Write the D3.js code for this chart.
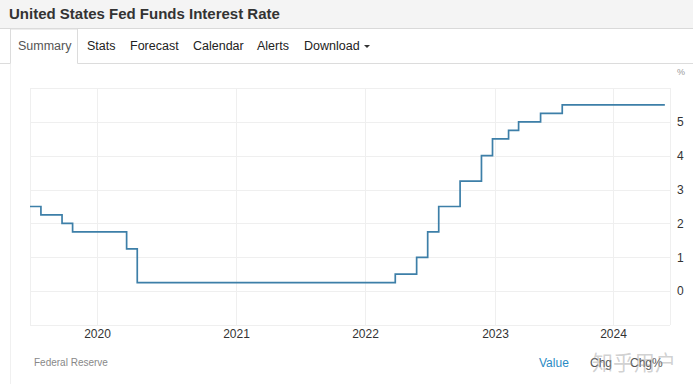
<!DOCTYPE html>
<html>
<head>
<meta charset="utf-8">
<script src="https://cdn.jsdelivr.net/npm/d3@7"></script>
<style>
  body { margin: 0; background: #fff; font-family: "Liberation Sans", Arial, sans-serif; }
  .grid line { stroke: #efefef; stroke-width: 1; }
  .axis text { fill: #333; font-size: 12px; }
  .rate { fill: none; stroke: #3d7fa8; stroke-width: 1.7; }
</style>
</head>
<body>
<div id="chart"></div>
<script>
"use strict";

// Fed funds rate (upper bound), step dates
var stepDates = ["2019-07-01", "2019-07-31", "2019-09-27", "2019-10-26", "2020-03-19", "2020-04-16",
  "2022-03-27", "2022-05-26", "2022-06-26", "2022-07-27", "2022-09-25", "2022-11-24", "2022-12-25",
  "2023-02-12", "2023-03-15", "2023-05-22", "2023-07-28", "2024-06-10"];
var rates = [2.5, 2.25, 2.0, 1.75, 1.25, 0.25,
  0.5, 1.0, 1.75, 2.5, 3.25, 4.0, 4.5,
  4.75, 5.0, 5.25, 5.5, 5.5];

var yearTicks = ["2020", "2021", "2022", "2023", "2024"];
var rateTicks = [0, 1, 2, 3, 4, 5];
var tabs = ["Summary", "Stats", "Forecast", "Calendar", "Alerts", "Download"];

function drawChart(w, h) {
  var parse = d3.timeParse("%Y-%m-%d");
  var dataset = stepDates.map(function (d, i) {
    return { date: parse(d), value: rates[i] };
  });
  var yearDates = yearTicks.map(function (y) { return parse(y + "-01-01"); });

  var svg = d3.select("#chart").append("svg")
    .attr("width", w)
    .attr("height", h);

  // header bar
  svg.append("rect").attr("x", 0).attr("y", 0).attr("width", w).attr("height", 28).attr("fill", "#f4f4f4");
  svg.append("line").attr("x1", 0).attr("x2", w).attr("y1", 28.5).attr("y2", 28.5).attr("stroke", "#d9d9d9");
  svg.append("text")
    .attr("x", 9).attr("y", 19)
    .attr("font-size", "15px").attr("font-weight", "bold").attr("fill", "#333")
    .text("United States Fed Funds Interest Rate");

  // tabs row
  svg.append("path")
    .attr("d", "M0,63.5H10.5V29H77.5V63.5H" + w)
    .attr("fill", "none").attr("stroke", "#dcdcdc");
  var tabX = [18, 87, 130, 193, 257, 304];
  svg.selectAll("text.tab")
    .data(tabs)
    .enter().append("text")
    .attr("class", "tab")
    .attr("x", function (d, i) { return tabX[i]; })
    .attr("y", 50)
    .attr("font-size", "12.5px")
    .attr("fill", function (d, i) { return i === 0 ? "#555" : "#222"; })
    .text(function (d) { return d; });
  svg.append("path").attr("d", "M364,45h6l-3,3z").attr("fill", "#333");

  // panel left border
  svg.append("line").attr("x1", 10.5).attr("x2", 10.5).attr("y1", 64).attr("y2", h).attr("stroke", "#f0f0f0");

  //Scale functions
  var xScale = d3.scaleTime()
    .domain([parse("2019-07-01")].concat(yearDates, [parse("2024-06-26")]))
    .range([30, 97, 236, 365, 495, 613, 670]);

  var yScale = d3.scaleLinear()
    .domain([-1, 6])
    .range([325, 88]);

  // grid lines
  var grid = svg.append("g").attr("class", "grid");
  grid.selectAll("line.h")
    .data(d3.range(-1, 7))
    .enter().append("line")
    .attr("x1", 30).attr("x2", 670)
    .attr("y1", function (d) { return Math.round(yScale(d)) + 0.5; })
    .attr("y2", function (d) { return Math.round(yScale(d)) + 0.5; })
    .attr("stroke", function (d) { return d === -1 ? "#e4e4e4" : null; });
  grid.selectAll("line.v")
    .data([xScale.domain()[0]].concat(yearDates, [xScale.domain()[6]]))
    .enter().append("line")
    .attr("x1", function (d) { return Math.round(xScale(d)) + 0.5; })
    .attr("x2", function (d) { return Math.round(xScale(d)) + 0.5; })
    .attr("y1", 88).attr("y2", 325);

  //Axes
  var xAxis = d3.axisBottom(xScale)
    .tickValues(yearDates)
    .tickFormat(d3.timeFormat("%Y"))
    .tickSize(0).tickPadding(4);
  svg.append("g")
    .attr("class", "axis")
    .attr("transform", "translate(0,325)")
    .call(xAxis)
    .call(function (g) { g.select(".domain").remove(); });

  var yAxis = d3.axisRight(yScale)
    .tickValues(rateTicks)
    .tickFormat(d3.format("d"))
    .tickSize(0).tickPadding(7);
  svg.append("g")
    .attr("class", "axis")
    .attr("transform", "translate(670,0)")
    .call(yAxis)
    .call(function (g) { g.select(".domain").remove(); });

  svg.append("text")
    .attr("x", 677).attr("y", 75)
    .attr("font-size", "9px").attr("fill", "#999")
    .text("%");

  //Step line
  var line = d3.line()
    .curve(d3.curveStepAfter)
    .x(function (d) { return xScale(d.date); })
    .y(function (d) { return yScale(d.value); });

  svg.append("path")
    .datum(dataset)
    .attr("class", "rate")
    .attr("d", line);

  // footer
  svg.append("text")
    .attr("x", 34).attr("y", 366)
    .attr("font-size", "10px").attr("fill", "#888")
    .text("Federal Reserve");
  svg.append("text")
    .attr("x", 539).attr("y", 367)
    .attr("font-size", "12px").attr("fill", "#2a8ac4")
    .text("Value");
  svg.append("text")
    .attr("x", 590).attr("y", 367)
    .attr("font-size", "12px").attr("fill", "#555")
    .text("Chg");
  svg.append("text")
    .attr("x", 630).attr("y", 367)
    .attr("font-size", "12px").attr("fill", "#555")
    .text("Chg%");
  // watermark (overlaps the footer labels, as in the reference)
  svg.append("text")
    .attr("x", 592).attr("y", 370)
    .attr("font-family", "Noto Sans CJK SC")
    .attr("font-size", "21px").attr("fill", "#999").attr("fill-opacity", 0.45)
    .text("知乎用户");
}

function init() {
  drawChart(693, 384);
}

window.onload = init;
</script>
</body>
</html>
